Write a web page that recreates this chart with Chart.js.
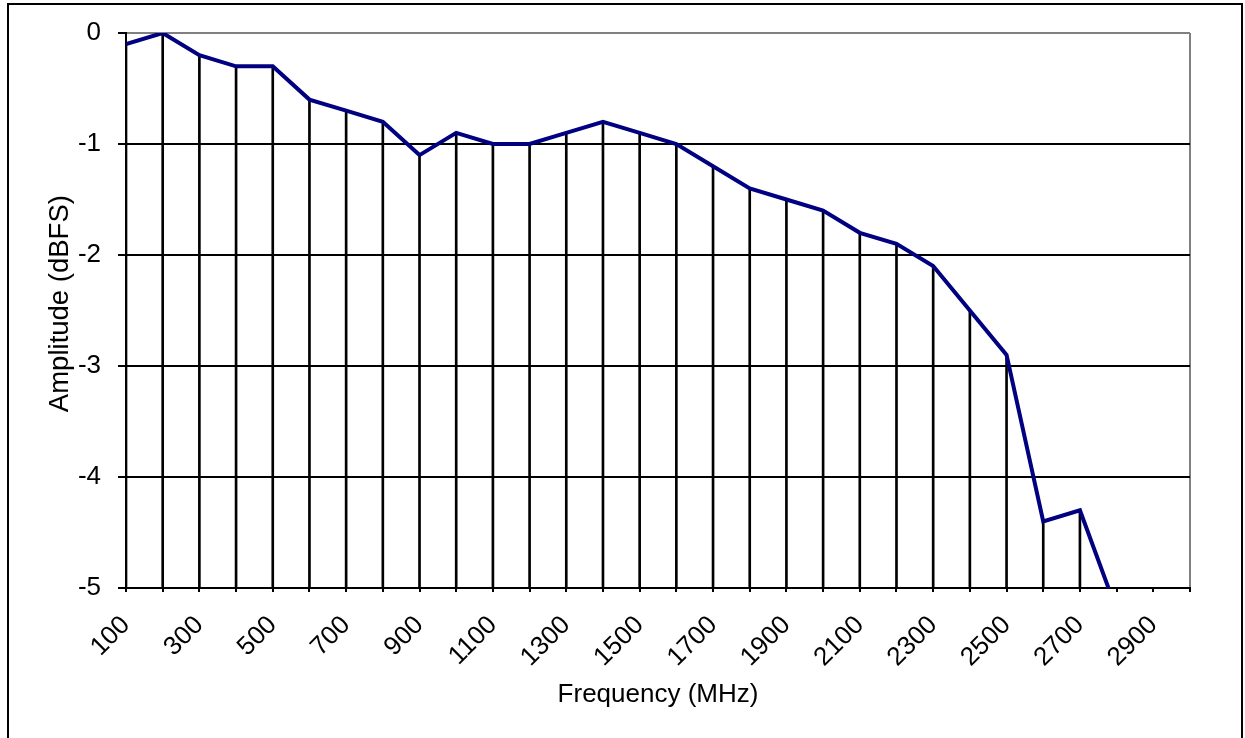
<!DOCTYPE html>
<html>
<head>
<meta charset="utf-8">
<script src="https://cdn.jsdelivr.net/npm/chart.js@4/dist/chart.umd.min.js"></script>
<style>
  html, body { margin: 0; padding: 0; background: #fff; }
  #wrap { position: relative; width: 1245px; height: 738px; overflow: hidden; }
  #chart { position: absolute; left: 0; top: 0; }
  #frame { position: absolute; left: 7px; top: 3px; width: 1236px; height: 745px;
           box-sizing: border-box; border: 2px solid #000; pointer-events: none; }
</style>
</head>
<body>
<div id="wrap">
  <canvas id="chart" width="1245" height="738"></canvas>
  <div id="frame"></div>
</div>
<script>
// Frequency response data
const frequencies = [100, 200, 300, 400, 500, 600, 700, 800, 900, 1000,
                     1100, 1200, 1300, 1400, 1500, 1600, 1700, 1800, 1900, 2000,
                     2100, 2200, 2300, 2400, 2500, 2600, 2700, 2800, 2900, 3000];
const amplitude = [-0.1, 0, -0.2, -0.3, -0.3, -0.6, -0.7, -0.8, -1.1, -0.9,
                   -1.0, -1.0, -0.9, -0.8, -0.9, -1.0, -1.2, -1.4, -1.5, -1.6,
                   -1.8, -1.9, -2.1, -2.5, -2.9, -4.4, -4.3, -5.2, null, null];
const yTicks = [0, -1, -2, -3, -4, -5];
const Y_MIN = -5, Y_MAX = 0;

// Drop lines: one thin floating bar from each point down to the axis floor
const dropLines = amplitude.map(v => (v === null ? null : [Y_MIN, v]));

const FAMILY = '"Liberation Sans", Arial, sans-serif';
const lastIndex = frequencies.length - 1;

new Chart(document.getElementById('chart'), {
  type: 'line',
  data: {
    labels: frequencies.map(String),
    datasets: [
      {
        type: 'line',
        data: amplitude,
        borderColor: '#000080',
        borderWidth: 4,
        pointRadius: 0,
        tension: 0,
        spanGaps: false,
        clip: 0,
        order: 1
      },
      {
        type: 'bar',
        data: dropLines,
        backgroundColor: '#000',
        borderWidth: 0,
        barThickness: 2,
        grouped: false,
        order: 2
      }
    ]
  },
  options: {
    responsive: false,
    animation: false,
    devicePixelRatio: 1,
    layout: { padding: { left: 0, top: 33, right: 55, bottom: 0 } },
    plugins: { legend: { display: false }, tooltip: { enabled: false } },
    scales: {
      x: {
        type: 'category',
        offset: false,
        grid: {
          offset: false,
          drawOnChartArea: true,
          color: ctx => (ctx.index === lastIndex ? '#808080' : 'rgba(0,0,0,0)'),
          lineWidth: 2,
          tickColor: '#000',
          tickLength: 4,
          tickWidth: 2
        },
        border: { display: true, color: '#000', width: 2 },
        ticks: {
          autoSkip: false,
          maxRotation: 45,
          minRotation: 45,
          color: '#000',
          font: { family: FAMILY, size: 26 },
          padding: 18,
          callback: (val, i) => (i % 2 === 0 ? frequencies[i] : '')
        },
        title: {
          display: true,
          text: 'Frequency (MHz)',
          color: '#000',
          font: { family: FAMILY, size: 26 },
          padding: { top: 0, bottom: 28 }
        },
        afterFit: s => { s.height = 150; }
      },
      y: {
        min: Y_MIN,
        max: Y_MAX,
        afterBuildTicks: s => { s.ticks = yTicks.map(v => ({ value: v })); },
        grid: {
          color: ctx => (ctx.tick && ctx.tick.value === Y_MAX ? '#808080' : '#000'),
          lineWidth: 2,
          tickColor: '#000',
          tickLength: 8,
          tickWidth: 2
        },
        border: { display: true, color: '#000', width: 2 },
        ticks: {
          color: '#000',
          font: { family: FAMILY, size: 26 },
          padding: 17,
          callback: v => String(v)
        },
        title: {
          display: true,
          text: '\u2002Amplitude (dBFS)',
          color: '#000',
          font: { family: FAMILY, size: 27.5 },
          padding: { top: 44, bottom: 0 }
        },
        afterFit: s => { s.width = 126; }
      }
    }
  }
});
</script>
</body>
</html>
